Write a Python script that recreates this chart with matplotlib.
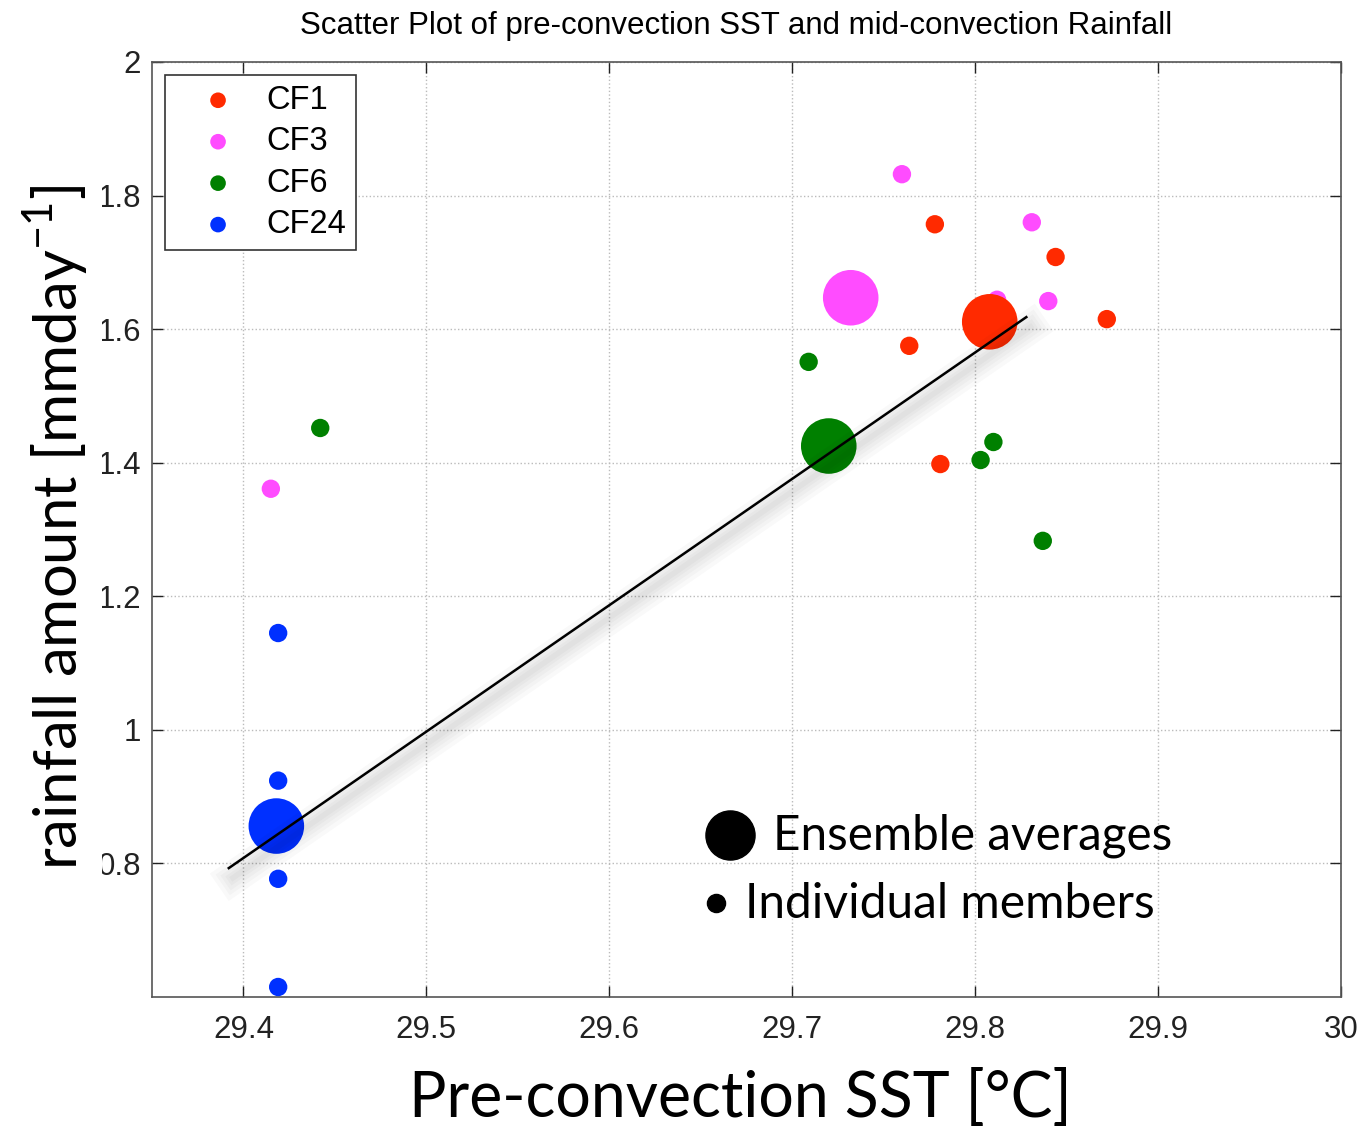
#!/usr/bin/python3
# -*- coding: utf-8 -*-
"""
Scatter of pre-convection SST vs mid-convection rainfall
"""
import matplotlib
matplotlib.use("Agg")
import matplotlib.pyplot as plt
import matplotlib.patheffects as pe
from matplotlib.patches import Rectangle

# ---- data ----
groups = ["CF1", "CF3", "CF6", "CF24"]
colors = ["#ff2a00", "#ff4cff", "#008000", "#0030ff"]

cf1_sst = [29.778, 29.844, 29.872, 29.764, 29.781]
cf1_rain = [1.757, 1.708, 1.615, 1.575, 1.398]
cf3_sst = [29.760, 29.831, 29.840, 29.812, 29.415]
cf3_rain = [1.832, 1.760, 1.642, 1.644, 1.361]
cf6_sst = [29.709, 29.442, 29.803, 29.810, 29.837]
cf6_rain = [1.551, 1.452, 1.404, 1.431, 1.283]
cf24_sst = [29.419, 29.419, 29.419, 29.419]
cf24_rain = [1.145, 0.924, 0.777, 0.615]

avg_sst = [29.808, 29.732, 29.720, 29.418]
avg_rain = [1.611, 1.647, 1.425, 0.856]

fit_sst = [29.392, 29.828]
fit_rain = [0.793, 1.618]

xticks = [29.4, 29.5, 29.6, 29.7, 29.8, 29.9, 30.0]
xticklabels = ["29.4", "29.5", "29.6", "29.7", "29.8", "29.9", "30"]
yticks = [0.8, 1.0, 1.2, 1.4, 1.6, 1.8, 2.0]
yticklabels = ["0.8", "1", "1.2", "1.4", "1.6", "1.8", "2"]

members_sst = [cf1_sst, cf3_sst, cf6_sst, cf24_sst]
members_rain = [cf1_rain, cf3_rain, cf6_rain, cf24_rain]

plt.rcParams['font.family'] = ['Liberation Sans', 'DejaVu Sans']

fig = plt.figure(figsize=(13.64, 11.29), dpi=100)
ax = fig.add_axes([0.1114, 0.1169, 0.8717, 0.8282])

# individual members
for xs, ys, c, g in zip(members_sst, members_rain, colors, groups):
    ax.scatter(xs, ys, s=175, color=c, edgecolors='none', label=g, zorder=3)

# ensemble averages
for x, y, c in zip(avg_sst, avg_rain, colors):
    ax.scatter([x], [y], s=1600, color=c, edgecolors='none', zorder=4)

# fit line with soft drop shadow
shadow = [pe.SimpleLineShadow(offset=(3, -7), shadow_color='k', alpha=0.025, linewidth=w)
          for w in (24, 18, 13, 8, 4)]
ax.plot(fit_sst, fit_rain, color='k', lw=1.8, zorder=5,
        path_effects=shadow + [pe.Normal()])

ax.set_xlim(29.35, 30.0)
ax.set_ylim(0.6, 2.0)
ax.set_xticks(xticks)
ax.set_xticklabels(xticklabels)
ax.set_yticks(yticks)
ax.set_yticklabels(yticklabels)
ax.tick_params(direction='in', length=8, width=1, labelsize=22.5, colors='#222222',
               top=True, right=True, pad=13)
ax.tick_params(axis='y', pad=8)
ax.grid(True, linestyle=':', color='#bbbbbb', linewidth=1)
ax.set_axisbelow(True)
for sp in ax.spines.values():
    sp.set_color('#555555')
    sp.set_linewidth(1.2)

ax.set_title("Scatter Plot of pre-convection SST and mid-convection Rainfall",
             fontsize=22.5, pad=20, x=0.4916)

leg = ax.legend(loc='upper left', fontsize=23.5, fancybox=False, framealpha=1,
                edgecolor='#333333', borderaxespad=0.4, handletextpad=0.15,
                borderpad=0.3, labelspacing=0.32, handlelength=2.65,
                markerscale=0.85)
leg.get_frame().set_linewidth(1.2)

# size key
ax.scatter([0.486], [0.173], s=1250, color='k', transform=ax.transAxes,
           clip_on=False, zorder=6)
ax.text(0.522, 0.172, "Ensemble averages", transform=ax.transAxes, fontsize=34.3,
        family='Lato', va='center', ha='left')
ax.scatter([0.474], [0.1005], s=170, color='k', transform=ax.transAxes,
           clip_on=False, zorder=6)
ax.text(0.499, 0.100, "Individual members", transform=ax.transAxes, fontsize=34.5,
        family='Lato', va='center', ha='left')

# big axis labels (the y label sits on a white patch, as in the original slide)
fig.add_artist(Rectangle((0, 0.18), 102 / 1364, 0.70, transform=fig.transFigure,
                         facecolor='white', edgecolor='none', zorder=2.5))
fig.text(0.543, 0.027, "Pre-convection SST [°C]", fontsize=45, family='Lato',
         ha='center', va='center')
fig.text(0.041, 0.533, r"rainfall amount [mmday$^{\mathregular{-1}}$]", fontsize=43,
         family='Lato', rotation=90, ha='center', va='center', zorder=3)

fig.savefig("out.png", dpi=100)
